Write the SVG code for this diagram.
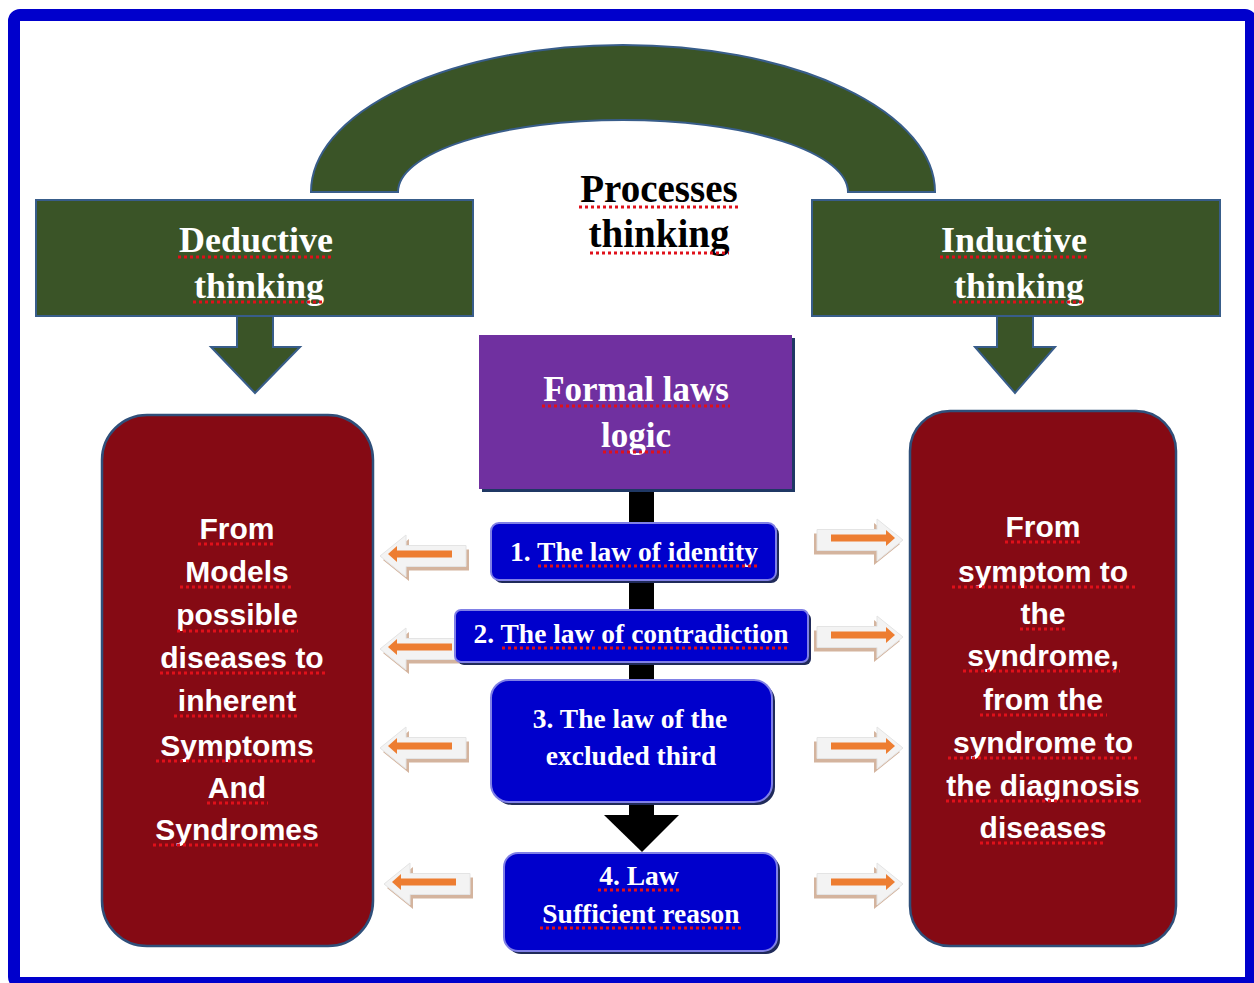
<svg xmlns="http://www.w3.org/2000/svg" xmlns:xlink="http://www.w3.org/1999/xlink" width="1254" height="983" viewBox="0 0 1254 983">
<style>
.serif{font-family:"Liberation Serif","Times New Roman",serif;font-weight:bold;text-anchor:middle}
.sans{font-family:"Liberation Sans",Arial,sans-serif;font-weight:bold;text-anchor:middle;fill:#fff;font-size:30px}
.wt{fill:#fff}
.green{fill:#3A5427;stroke:#385D8A;stroke-width:2}
.lawbox{fill:#0000CC;stroke:#8080E6;stroke-width:2}
.lawshadow{fill:#1F2A5A}
.redbox{fill:#850A14;stroke:#2F4F7A;stroke-width:2.5}
.sq{stroke:#E0101A;stroke-width:3;stroke-dasharray:3 3;fill:none}
</style>
<defs>
<g id="arr">
<polygon points="0,0 26,-21 26,-10.5 86,-10.5 86,10.5 26,10.5 26,21" fill="#D4B49E" transform="translate(3,4)"/>
<polygon points="0,0 26,-21 26,-10.5 86,-10.5 86,10.5 26,10.5 26,21" fill="#F3F3F3" stroke="#E4E4E4" stroke-width="1"/>
<rect x="16" y="-5.5" width="56" height="7" fill="#ED7D31"/>
<polygon points="8,-2 17,-10 17,6" fill="#ED7D31"/>
</g>
</defs>
<rect x="0" y="0" width="1254" height="983" fill="#fff"/>
<rect x="14" y="15" width="1237" height="968" rx="6" fill="none" stroke="#0000CC" stroke-width="12"/>

<g id="arch">
<path d="M311,192 A312,147 0 0 1 935,192 L848,192 A225,72 0 0 0 398,192 Z" fill="#3A5427" stroke="#385D8A" stroke-width="2"/>
</g>

<g id="processes">
<text class="serif" x="659" y="202" font-size="39" fill="#000">Processes</text>
<text class="serif" x="659" y="247" font-size="39" fill="#000">thinking</text>
</g>

<g id="deductive">
<rect class="green" x="36" y="200" width="437" height="116"/>
<text class="serif wt" x="256" y="252" font-size="36">Deductive</text>
<text class="serif wt" x="259" y="298" font-size="36">thinking</text>
</g>
<g id="inductive">
<rect class="green" x="812" y="200" width="408" height="116"/>
<text class="serif wt" x="1014" y="252" font-size="36">Inductive</text>
<text class="serif wt" x="1019" y="298" font-size="36">thinking</text>
</g>

<g id="connectors">
<polygon class="green" points="237,316 273,316 273,347 300,347 255,393 211,347 237,347"/>
<polygon class="green" points="997,316 1033,316 1033,347 1055,347 1015,393 975,347 997,347"/>
<rect x="629" y="489" width="25" height="326" fill="#000"/>
<polygon points="604,815 679,815 642,852" fill="#000"/>
<use xlink:href="#arr" transform="translate(380,556)"/>
<use xlink:href="#arr" transform="translate(380,649)"/>
<use xlink:href="#arr" transform="translate(380,748)"/>
<use xlink:href="#arr" transform="translate(384,884)"/>
<use xlink:href="#arr" transform="translate(903,540) scale(-1,1)"/>
<use xlink:href="#arr" transform="translate(903,637) scale(-1,1)"/>
<use xlink:href="#arr" transform="translate(903,748) scale(-1,1)"/>
<use xlink:href="#arr" transform="translate(903,884) scale(-1,1)"/>
</g>

<g id="formal">
<rect x="482" y="338" width="313" height="154" fill="#1F3864"/>
<rect x="479" y="335" width="313" height="154" fill="#7030A0"/>
<text class="serif wt" x="636" y="401" font-size="35">Formal laws</text>
<text class="serif wt" x="636" y="447" font-size="35">logic</text>
</g>

<g id="law1">
<rect class="lawshadow" x="494" y="526" width="285" height="57" rx="8"/>
<rect class="lawbox" x="491" y="523" width="285" height="57" rx="8"/>
<text class="serif wt" x="634" y="561" font-size="27.5">1. The law of identity</text>
</g>
<g id="law2">
<rect class="lawshadow" x="458" y="613" width="353" height="52" rx="6"/>
<rect class="lawbox" x="455" y="610" width="353" height="52" rx="6"/>
<text class="serif wt" x="631" y="643" font-size="27.5">2. The law of contradiction</text>
</g>
<g id="law3">
<rect class="lawshadow" x="494" y="683" width="281" height="122" rx="18"/>
<rect class="lawbox" x="491" y="680" width="281" height="122" rx="18"/>
<text class="serif wt" x="630" y="728" font-size="27.5">3. The law of the</text>
<text class="serif wt" x="631" y="765" font-size="27.5">excluded third</text>
</g>
<g id="law4">
<rect class="lawshadow" x="507" y="856" width="273" height="98" rx="14"/>
<rect class="lawbox" x="504" y="853" width="273" height="98" rx="14"/>
<text class="serif wt" x="639" y="885" font-size="27.5">4. Law</text>
<text class="serif wt" x="641" y="923" font-size="27.5">Sufficient reason</text>
</g>

<g id="left-box">
<rect class="redbox" x="102" y="415" width="271" height="531" rx="45"/>
<text class="sans" x="237" y="539">From</text>
<text class="sans" x="237" y="582">Models</text>
<text class="sans" x="237" y="625">possible</text>
<text class="sans" x="242" y="668">diseases to</text>
<text class="sans" x="237" y="711">inherent</text>
<text class="sans" x="237" y="756">Symptoms</text>
<text class="sans" x="237" y="798">And</text>
<text class="sans" x="237" y="840">Syndromes</text>
</g>
<g id="right-box">
<rect class="redbox" x="910" y="411" width="266" height="535" rx="40"/>
<text class="sans" x="1043" y="537">From</text>
<text class="sans" x="1043" y="582">symptom to</text>
<text class="sans" x="1043" y="624">the</text>
<text class="sans" x="1043" y="666">syndrome,</text>
<text class="sans" x="1043" y="710">from the</text>
<text class="sans" x="1043" y="753">syndrome to</text>
<text class="sans" x="1043" y="796">the diagnosis</text>
<text class="sans" x="1043" y="838">diseases</text>
</g>

<g id="spellcheck">
<path class="sq" d="M579,207H740M590,253H729M178,257H332M193,302H325M940,257H1088M953,302H1085M542,406H730M603,452H670M538,566H760M502,648H789M598,890H680M540,928H742"/>
<path class="sq" d="M198,544H274M180,587H294M177,631H298M160,673H326M174,716H300M156,761H318M207,803H268M153,845H320"/>
<path class="sq" d="M1005,542H1081M952,587H1135M1020,629H1067M963,671H1120M980,715H1107M948,758H1138M946,801H1141M980,843H1106"/>
</g>
</svg>
